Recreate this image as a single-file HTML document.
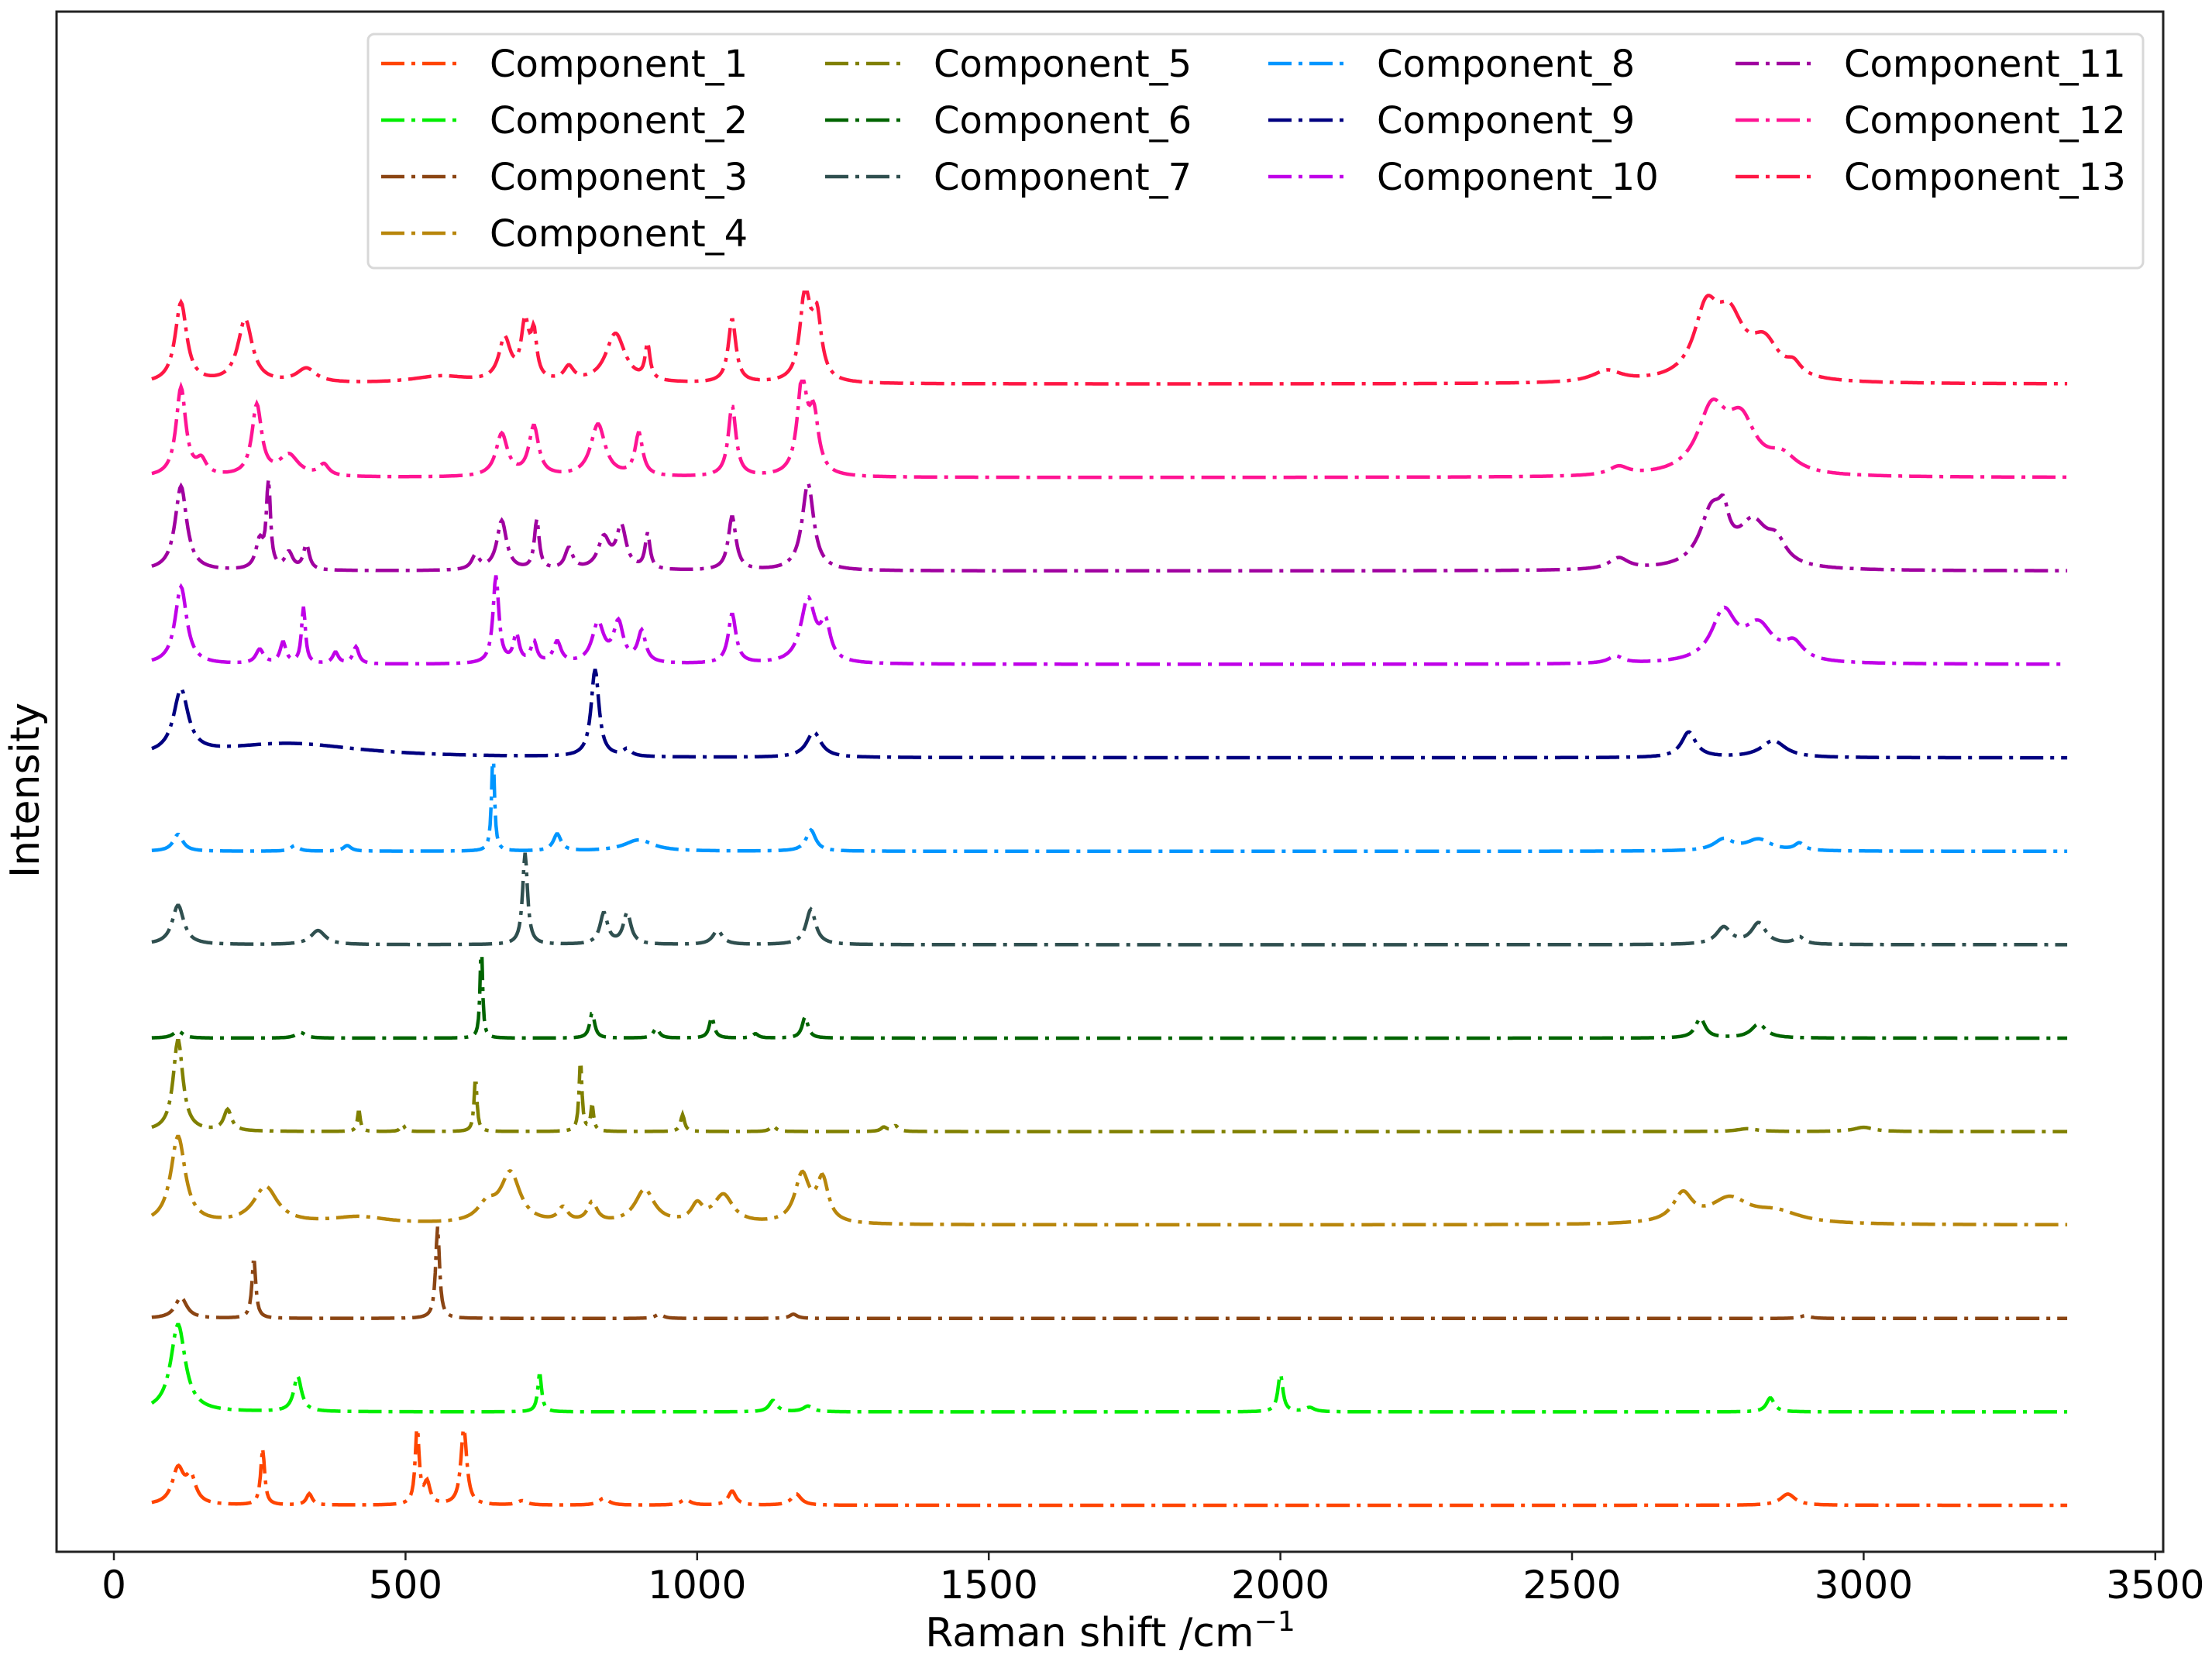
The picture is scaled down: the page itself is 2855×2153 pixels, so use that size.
<!DOCTYPE html>
<html><head><meta charset="utf-8"><style>
html,body{margin:0;padding:0;background:#fff;}
svg{display:block;font-family:"DejaVu Sans","Liberation Sans",sans-serif;}
</style></head><body>
<svg id="chart" width="2855" height="2153" viewBox="0 0 2855 2153" xmlns="http://www.w3.org/2000/svg">
<rect width="2855" height="2153" fill="#fff"/>
<g id="series"></g>
<rect x="73" y="15" width="2719" height="1988" fill="none" stroke="#222" stroke-width="3"/>
<g id="xticks"></g>
<text x="1433" y="2125" font-size="52" text-anchor="middle">Raman shift /cm<tspan dy="-20" font-size="36">−1</tspan></text>
<text transform="translate(50,1020) rotate(-90)" font-size="52" text-anchor="middle">Intensity</text>
<g id="legend"></g>
</svg>
<script>
const names=["Component_1","Component_2","Component_3","Component_4","Component_5","Component_6","Component_7","Component_8","Component_9","Component_10","Component_11","Component_12","Component_13"];
const colors=["#ff4500","#00ee00","#8b4513","#b8860b","#808000","#006400","#2f4f4f","#0096ff","#000080","#c000e8","#a000a0","#ff1493","#ff1744"];
const xTicks=[0,500,1000,1500,2000,2500,3000,3500];
// peaks: [center cm-1, height, half-width]
const peaks1=[[110,25,12],[132,18,10],[255,40,4],[335,8,6],[520,55,4],[537,15,6],[600,55,6],[700,3,10],[840,5,10],[980,4,10],[1060,10,8],[1170,8,10],[2870,8,15]];
const peaks2=[[110,62,15],[315,25,8],[730,27,4],[1130,8,8],[1190,4,10],[2000,27,5],[2050,3,10],[2840,10,8]];
const peaks3=[[115,15,12],[240,42,4],[555,65,4],[935,3,8],[1165,3,8],[2900,2,10]];
const peaks4=[[110,62,15],[260,26,25],[420,5,60],[640,12,20],[680,35,20],[770,10,10],[820,14,10],[910,24,20],[1000,12,12],[1045,20,20],[1180,34,15],[1215,30,12],[2690,20,20],[2770,17,40],[2850,8,50]];
const peaks5=[[110,65,10],[195,15,8],[420,15,3],[495,5,4],[620,38,3],[800,50,3],[820,18,3],[975,12,4],[1130,4,6],[1320,3,6],[1340,4,6],[2800,2,20],[3000,3,20]];
const peaks6=[[110,5,10],[320,4,10],[630,68,2.5],[820,18,5],[930,7,6],[1025,15,5],[1100,3,6],[1185,15,6],[2720,14,10],[2820,10,15]];
const peaks7=[[110,28,12],[350,10,15],[705,65,5],[840,22,8],[880,22,8],[1035,10,10],[1195,25,10],[2760,12,15],[2820,15,15],[2890,5,10]];
const peaks8=[[110,12,10],[310,4,8],[400,4,8],[650,70,3],[760,12,8],[900,8,30],[1195,15,10],[2760,8,20],[2820,8,25],[2890,5,10]];
const peaks9=[[115,45,15],[300,10,150],[825,62,8],[880,5,8],[1200,18,15],[2700,18,15],[2845,12,25]];
const peaks10=[[115,55,12],[250,10,8],[290,15,6],[325,40,4],[380,8,6],[415,12,6],[655,62,6],[690,20,6],[720,15,6],[760,15,8],[830,28,12],[865,28,10],[905,22,8],[1060,35,8],[1190,45,15],[1220,25,10],[2575,5,15],[2760,35,25],[2820,25,30],[2880,12,20]];
const peaks11=[[115,60,12],[250,20,8],[265,62,4],[300,12,8],[330,18,6],[620,10,8],[665,35,10],[725,35,5],[780,15,8],[840,22,12],[870,30,10],[915,25,5],[1060,38,8],[1190,62,12],[2580,8,20],[2740,40,25],[2760,20,10],[2810,30,30],[2850,15,20]];
const peaks12=[[115,63,10],[150,10,10],[245,50,10],[300,15,20],[360,8,10],[665,30,12],[720,35,10],[830,37,15],[900,30,8],[1060,50,8],[1180,65,10],[1200,40,10],[2580,6,20],[2740,45,30],[2790,35,30],[2860,12,30]];
const peaks13=[[115,57,12],[225,45,15],[330,10,20],[560,5,60],[670,30,12],[705,40,8],[720,30,6],[780,10,10],[860,35,20],[915,25,5],[1060,45,8],[1185,62,10],[1205,45,10],[2560,8,30],[2730,45,25],[2770,40,30],[2830,25,30],[2880,8,15]];
const allPeaks=[peaks1,peaks2,peaks3,peaks4,peaks5,peaks6,peaks7,peaks8,peaks9,peaks10,peaks11,peaks12,peaks13];
const xMin=65,xMax=3350;
const NS="http://www.w3.org/2000/svg";
function xs(v){return 147+v*0.7528;}
function ys(i,val){return 1943-i*120.6-val*1.821;}
const sg=document.getElementById('series');
allPeaks.forEach((pk,i)=>{
  let d="";
  for(let x=xMin;x<=xMax;x+=2){
    let v=0;
    pk.forEach(p=>{const t=(x-p[0])/p[2];v+=p[1]/(1+t*t);});
    const peakMax=Math.max(...pk.map(p=>p[1]));
    v=Math.min(v,peakMax*1.05);
    d+=(x===xMin?"M":"L")+xs(x).toFixed(1)+","+ys(i,v).toFixed(1);
  }
  const path=document.createElementNS(NS,'path');
  path.setAttribute('d',d);
  path.setAttribute('fill','none');
  path.setAttribute('stroke',colors[i]);
  path.setAttribute('stroke-width','4.5');
  path.setAttribute('stroke-dasharray','30 9 5 9');
  
  
  sg.appendChild(path);
});
const xt=document.getElementById('xticks');
xTicks.forEach(t=>{
  const l=document.createElementNS(NS,'line');
  l.setAttribute('x1',xs(t));l.setAttribute('x2',xs(t));
  l.setAttribute('y1',2003);l.setAttribute('y2',2014);
  l.setAttribute('stroke','#222');l.setAttribute('stroke-width','2.5');
  
  
  xt.appendChild(l);
  const tx=document.createElementNS(NS,'text');
  tx.setAttribute('x',xs(t));tx.setAttribute('y',2063);
  tx.setAttribute('font-size','50');tx.setAttribute('text-anchor','middle');
  tx.textContent=t;
  
  
  xt.appendChild(tx);
});
const lg=document.getElementById('legend');
const box=document.createElementNS(NS,'rect');
box.setAttribute('x',475);box.setAttribute('y',44);box.setAttribute('width',2291);box.setAttribute('height',302);
box.setAttribute('rx',8);box.setAttribute('fill','#fff');box.setAttribute('fill-opacity','0.85');
box.setAttribute('stroke','#d8d8d8');box.setAttribute('stroke-width','3');


lg.appendChild(box);
const colX=[492,1065,1637,2240];
const colRows=[4,3,3,3];
let k=0;
colRows.forEach((n,c)=>{
  for(let r=0;r<n;r++){
    const y=82+r*73;
    const g=document.createElementNS(NS,'g');
    
    
    const l=document.createElementNS(NS,'line');
    l.setAttribute('x1',colX[c]);l.setAttribute('x2',colX[c]+100);
    l.setAttribute('y1',y);l.setAttribute('y2',y);
    l.setAttribute('stroke',colors[k]);l.setAttribute('stroke-width','4.5');
    l.setAttribute('stroke-dasharray','30 9 5 9');
    g.appendChild(l);
    const tx=document.createElementNS(NS,'text');
    tx.setAttribute('x',colX[c]+140);tx.setAttribute('y',y+17);
    tx.setAttribute('font-size','48');
    tx.textContent=names[k];
    g.appendChild(tx);
    lg.appendChild(g);
    k++;
  }
});
</script>
</body></html>
